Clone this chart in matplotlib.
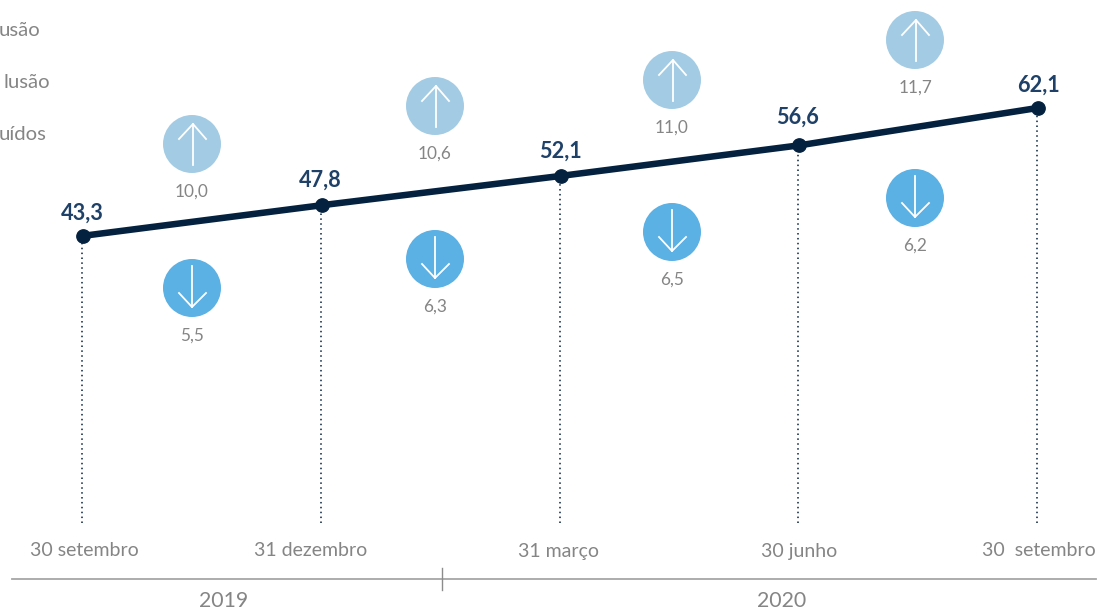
import matplotlib
matplotlib.use("Agg")
import matplotlib.pyplot as plt
from matplotlib.patches import Circle

plt.rcParams['font.family'] = ['Lato', 'DejaVu Sans']

# Data
dates = ["30 setembro", "31 dezembro", "31 março", "30 junho", "30  setembro"]
totals = [43.3, 47.8, 52.1, 56.6, 62.1]
increases = [10.0, 10.6, 11.0, 11.7]
decreases = [5.5, 6.3, 6.5, 6.2]
years = ["2019", "2020"]
legend_fragments = ["usão", "lusão", "uídos"]

# Layout, in pixels of the 1100x611 canvas
W, H = 1100, 611
up_xy = [(192, 144), (435, 106), (672, 80), (915, 40)]
down_xy = [(192, 288), (435, 259), (672, 232), (915, 198)]
total_label_xy = [(82, 213), (320, 180), (560, 151), (798, 117), (1038, 85)]
date_label_xy = [(84, 551), (311, 551), (559, 551), (799, 551), (1039, 551)]
year_label_xy = [(224, 601), (782, 601)]
legend_xy = [(40, 31), (50, 82), (46, 135)]
GREY = "#858585"
NAVY = "#04213F"
LABEL = "#1F4168"
UP = "#A3CCE4"
DOWN = "#5BB0E4"

fig = plt.figure(figsize=(11, 6.11), dpi=100, facecolor="white")

# Value axes: the line and its drop lines
ax = fig.add_axes([0, (H - 523) / H, 1, 523 / H])
x0, dx = 83, 238.75
ax.set_xlim(-x0 / dx, (W - x0) / dx)
ax.set_ylim(1.1, 77.96)
ax.axis("off")
xs = list(range(len(totals)))
ax.vlines([x - 1 / dx for x in xs], 1.1, totals, colors=NAVY, linewidth=1.1,
          linestyles=(0, (1, 2.2)), zorder=1)
ax.plot(xs, totals, color=NAVY, lw=4.7, marker="o", ms=9.6, solid_capstyle="round", zorder=2)

# Pixel overlay: annotations
ov = fig.add_axes([0, 0, 1, 1], facecolor="none")
ov.set_xlim(0, W)
ov.set_ylim(H, 0)
ov.axis("off")

for (cx, cy), v in zip(up_xy, increases):
    ov.add_patch(Circle((cx, cy), 29, facecolor=UP, edgecolor="none"))
    ov.plot([cx + 1, cx + 1], [cy + 21, cy - 20], color="white", lw=1.3)
    ov.plot([cx - 13, cx + 1, cx + 14], [cy - 5, cy - 20, cy - 5], color="white", lw=1.3)
    ov.text(cx, cy + 48, f"{v:.1f}".replace(".", ","), color=GREY, fontsize=12.4,
            ha="center", va="center")

for (cx, cy), v in zip(down_xy, decreases):
    ov.add_patch(Circle((cx, cy), 29, facecolor=DOWN, edgecolor="none"))
    ov.plot([cx, cx], [cy - 22, cy + 19], color="white", lw=1.3)
    ov.plot([cx - 13, cx, cx + 14], [cy + 5, cy + 19, cy + 5], color="white", lw=1.3)
    ov.text(cx, cy + 48, f"{v:.1f}".replace(".", ","), color=GREY, fontsize=12.4,
            ha="center", va="center")

for (lx, ly), v in zip(total_label_xy, totals):
    ov.text(lx, ly, f"{v:.1f}".replace(".", ","), color=LABEL, fontsize=15.6, fontweight="bold",
            ha="center", va="center")

for (lx, ly), s in zip(date_label_xy, dates):
    ov.text(lx, ly, s, color=GREY, fontsize=14, ha="center", va="center")

for (lx, ly), s in zip(year_label_xy, years):
    ov.text(lx, ly, s, color=GREY, fontsize=15.3, ha="center", va="center")

for (lx, ly), s in zip(legend_xy, legend_fragments):
    ov.text(lx, ly, s, color=GREY, fontsize=14.6, ha="right", va="center")

ov.plot([12, 1096], [579, 579], color="#A6A6A6", lw=1.3)
ov.plot([442, 442], [568, 590], color="#8C8C8C", lw=1.0)

fig.savefig("out.png", dpi=100)
